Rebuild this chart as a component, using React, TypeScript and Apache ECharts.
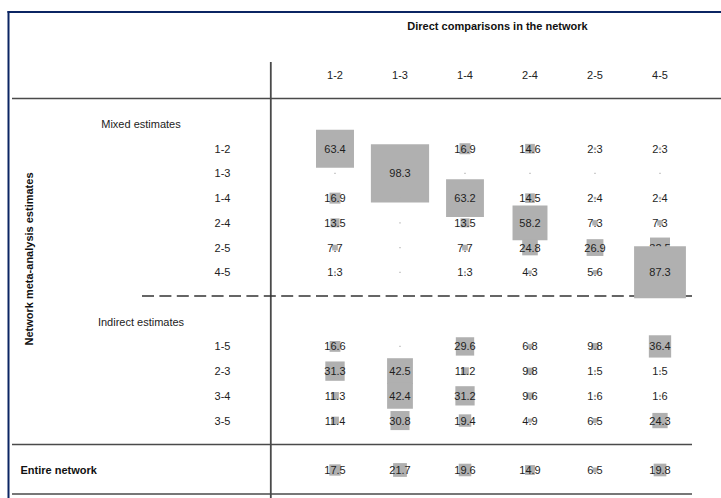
import React, { useEffect, useRef } from "react";
import * as echarts from "echarts";

// Direct comparisons (columns) and network estimates (rows)
const directComparisons = ["1-2", "1-3", "1-4", "2-4", "2-5", "4-5"];

const mixedRows = ["1-2", "1-3", "1-4", "2-4", "2-5", "4-5"];
const mixedValues = [
  [63.4, 0.5, 16.9, 14.6, 2.3, 2.3],
  [0.4, 98.3, 0.4, 0.3, 0.3, 0.3],
  [16.9, 0.6, 63.2, 14.5, 2.4, 2.4],
  [13.5, 0.2, 13.5, 58.2, 7.3, 7.3],
  [7.7, 0.4, 7.7, 24.8, 26.9, 32.5],
  [1.3, 0.2, 1.3, 4.3, 5.6, 87.3],
];

const indirectRows = ["1-5", "2-3", "3-4", "3-5"];
const indirectValues = [
  [16.6, 0.8, 29.6, 6.8, 9.8, 36.4],
  [31.3, 42.5, 11.2, 9.8, 1.5, 1.5],
  [11.3, 42.4, 31.2, 9.6, 1.6, 1.6],
  [11.4, 30.8, 19.4, 4.9, 6.5, 24.3],
];

const entireNetwork = [17.5, 21.7, 19.6, 14.9, 6.5, 19.8];

// Vertical slots: 0 heading, 1-6 mixed, 7 divider, 8 heading, 9-12 indirect, 13 rule, 14 entire
const MIXED_START = 1;
const INDIRECT_START = 9;
const ENTIRE_SLOT = 14;

const FONT = '"Liberation Sans", Arial, Helvetica, sans-serif';
const PX_PER_PERCENT = 0.58;
const MIN_SIDE = 1.2;

const slotLabels: string[] = [];
mixedRows.forEach((r, i) => (slotLabels[MIXED_START + i] = r));
indirectRows.forEach((r, i) => (slotLabels[INDIRECT_START + i] = r));

function buildCells() {
  const cells: number[][] = [];
  mixedValues.forEach((row, i) =>
    row.forEach((v, c) => cells.push([c, MIXED_START + i, v]))
  );
  indirectValues.forEach((row, i) =>
    row.forEach((v, c) => cells.push([c, INDIRECT_START + i, v]))
  );
  entireNetwork.forEach((v, c) => cells.push([c, ENTIRE_SLOT, v]));
  return cells;
}

export default function App() {
  const ref = useRef<HTMLDivElement>(null);

  useEffect(() => {
    if (!ref.current) return;
    const chart = echarts.init(ref.current, null, { renderer: "svg" });
    const cells = buildCells();

    const ruleColor = "#4a4a4a";

    chart.setOption({
      animation: false,
      backgroundColor: "#ffffff",
      grid: { left: 302.5, top: 124, width: 390, height: 370.7 },
      xAxis: {
        type: "category",
        data: directComparisons,
        position: "top",
        axisLine: { show: false },
        axisTick: { show: false },
        splitLine: { show: false },
        axisLabel: { margin: 44, fontSize: 11, color: "#222", fontFamily: FONT },
        name: "Direct comparisons in the network",
        nameLocation: "middle",
        nameGap: 93,
        nameTextStyle: { fontSize: 11, fontWeight: "bold", color: "#111", fontFamily: FONT },
      },
      yAxis: {
        type: "value",
        inverse: true,
        min: 0,
        max: 15,
        interval: 1,
        axisLine: { show: false },
        axisTick: { show: false },
        splitLine: { show: false },
        axisLabel: {
          margin: 80,
          align: "center",
          fontSize: 11,
          color: "#222",
          fontFamily: FONT,
          showMinLabel: true,
          showMaxLabel: true,
          formatter: (v: number) => slotLabels[v] ?? "",
        },
      },
      series: [
        {
          type: "custom",
          data: cells,
          renderItem: (params: any, api: any) => {
            const col = api.value(0);
            const slot = api.value(1);
            const v = api.value(2);
            const [cx, cy] = api.coord([col, slot]);
            // square side grows linearly with the contribution
            const side = v < 1 ? MIN_SIDE : v * PX_PER_PERCENT + MIN_SIDE;
            const idx = params.dataIndex;
            const children: any[] = [
              {
                type: "rect",
                z2: idx * 2,
                shape: { x: cx - side / 2, y: cy - side / 2, width: side, height: side },
                style: { fill: "#b0b0b0" },
              },
            ];
            if (v >= 1) {
              children.push({
                type: "text",
                z2: idx * 2 + 1,
                x: cx,
                y: cy,
                style: {
                  text: v.toFixed(1),
                  fill: "#1e1e1e",
                  font: `11px ${FONT}`,
                  align: "center",
                  verticalAlign: "middle",
                },
              });
            }
            return { type: "group", children };
          },
        },
      ],
      graphic: [
        // frame
        { type: "line", shape: { x1: 7.5, y1: 12, x2: 721, y2: 12 }, style: { stroke: "#0b2563", lineWidth: 2 } },
        { type: "line", shape: { x1: 8.5, y1: 11, x2: 8.5, y2: 498 }, style: { stroke: "#0b2563", lineWidth: 2 } },
        // rules
        { type: "line", shape: { x1: 12, y1: 98.5, x2: 721, y2: 98.5 }, style: { stroke: ruleColor, lineWidth: 1.6 } },
        { type: "line", shape: { x1: 270.8, y1: 62, x2: 270.8, y2: 498 }, style: { stroke: ruleColor, lineWidth: 1.8 } },
        {
          type: "line",
          shape: { x1: 142, y1: 296, x2: 692, y2: 296 },
          style: { stroke: "#333", lineWidth: 1.5, lineDash: [12, 5.4] },
        },
        { type: "line", shape: { x1: 12, y1: 444.5, x2: 692, y2: 444.5 }, style: { stroke: ruleColor, lineWidth: 1.6 } },
        { type: "line", shape: { x1: 12, y1: 494, x2: 692, y2: 494 }, style: { stroke: ruleColor, lineWidth: 1.6 } },
        // headings
        {
          type: "text",
          x: 141,
          y: 124,
          style: { text: "Mixed estimates", font: `11px ${FONT}`, fill: "#222", align: "center", verticalAlign: "middle" },
        },
        {
          type: "text",
          x: 141,
          y: 321.5,
          style: { text: "Indirect estimates", font: `11px ${FONT}`, fill: "#222", align: "center", verticalAlign: "middle" },
        },
        {
          type: "text",
          x: 20.5,
          y: 470,
          style: { text: "Entire network", font: `bold 11px ${FONT}`, fill: "#111", align: "left", verticalAlign: "middle" },
        },
        {
          type: "text",
          x: 29,
          y: 259,
          rotation: Math.PI / 2,
          style: {
            text: "Network meta-analysis estimates",
            font: `bold 11px ${FONT}`,
            fill: "#111",
            align: "center",
            verticalAlign: "middle",
          },
        },
      ],
    });

    return () => chart.dispose();
  }, []);

  return (
    <div
      ref={ref}
      style={{ position: "fixed", left: 0, top: 0, width: 721, height: 498, background: "#fff" }}
    />
  );
}
